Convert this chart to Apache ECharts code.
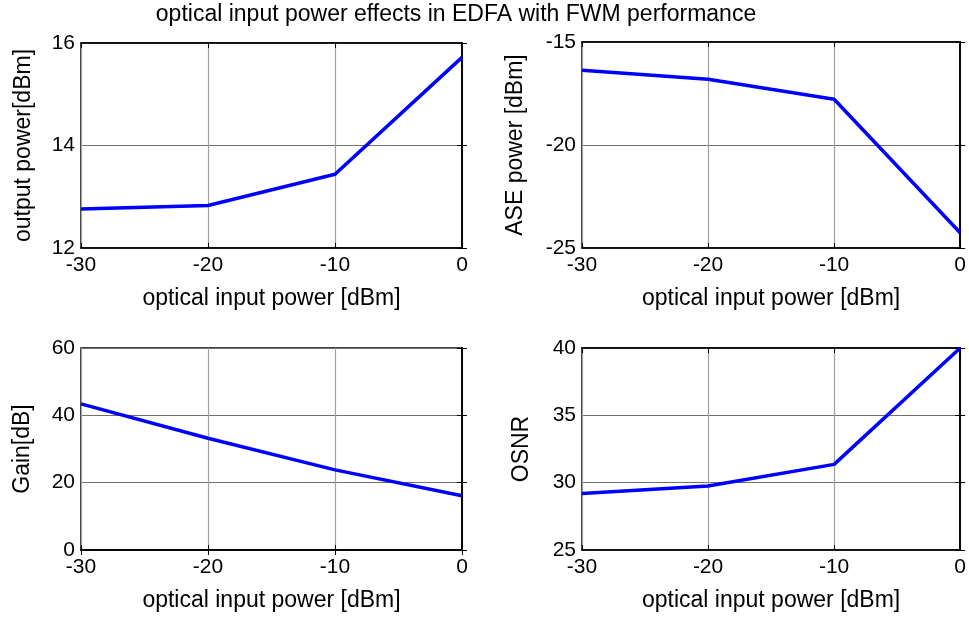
<!DOCTYPE html>
<html>
<head>
<meta charset="utf-8">
<script src="https://cdn.jsdelivr.net/npm/echarts@6/dist/echarts.min.js"></script>
<style>
html, body { margin: 0; padding: 0; background: #fff; }
#chart { width: 969px; height: 624px; }
</style>
</head>
<body>
<div id="chart"></div>
<script>
// input power points (dBm)
var inputPower = [-30, -20, -10, 0];
// values
var outputPower = [12.76, 12.83, 13.44, 15.72];
var asePower = [-16.37, -16.81, -17.78, -24.26];
var gain = [43.4, 33.2, 23.8, 16.1];
var osnr = [29.2, 29.75, 31.36, 40.0];

var yNames = ['output power[dBm]', 'ASE power [dBm]', 'Gain[dB]', 'OSNR'];
var yMin = [12, -25, 0, 25];
var yMax = [16, -15, 60, 40];
var yStep = [2, 5, 20, 5];
var xName = 'optical input power [dBm]';

var FONT = 'Liberation Sans, Arial, sans-serif';

var chart = echarts.init(document.getElementById('chart'));

var grids = [
	{ left: 81, top: 43, width: 381, height: 205 },
	{ left: 582, top: 42, width: 379, height: 206 },
	{ left: 81, top: 348, width: 381, height: 202 },
	{ left: 582, top: 348, width: 379, height: 202 }
];
var yGaps = [46, 55, 47, 49];
var allData = [outputPower, asePower, gain, osnr];

var xAxes = [], yAxes = [], series = [];
for (var i = 0; i < 4; i++) {
	grids[i].show = true;
	grids[i].borderColor = '#000';
	grids[i].borderWidth = 1.5;
	// bottom axis with labels
	xAxes.push({
		type: 'value', gridIndex: i, position: 'bottom',
		min: -30, max: 0, interval: 10,
		name: xName, nameLocation: 'middle', nameGap: 39,
		nameTextStyle: { color: '#000', fontFamily: FONT, fontSize: 23 },
		axisLine: { show: true, lineStyle: { color: '#000', width: 1.5 } },
		axisTick: { show: true, inside: true, length: 5, lineStyle: { color: '#000' } },
		axisLabel: { color: '#000', fontFamily: FONT, fontSize: 21, margin: 7 },
		splitLine: { show: true, lineStyle: { color: '#a0a0a0', width: 1.2 } }
	});
	// top axis only for ticks
	xAxes.push({
		type: 'value', gridIndex: i, position: 'top',
		min: -30, max: 0, interval: 10,
		axisLine: { show: true, lineStyle: { color: '#000', width: 1.5 } },
		axisTick: { show: true, inside: true, length: 5, lineStyle: { color: '#000' } },
		axisLabel: { show: false },
		splitLine: { show: false }
	});
	yAxes.push({
		type: 'value', gridIndex: i, position: 'left',
		min: yMin[i], max: yMax[i], interval: yStep[i],
		name: yNames[i], nameLocation: 'middle', nameGap: yGaps[i],
		nameTextStyle: { color: '#000', fontFamily: FONT, fontSize: 23 },
		axisLine: { show: true, lineStyle: { color: '#000', width: 1.5 } },
		axisTick: { show: true, inside: true, length: 5, lineStyle: { color: '#000' } },
		axisLabel: { color: '#000', fontFamily: FONT, fontSize: 21, margin: 6 },
		splitLine: { show: true, lineStyle: { color: '#707070', width: 1 } }
	});
	yAxes.push({
		type: 'value', gridIndex: i, position: 'right',
		min: yMin[i], max: yMax[i], interval: yStep[i],
		axisLine: { show: true, lineStyle: { color: '#000', width: 1.5 } },
		axisTick: { show: true, inside: true, length: 5, lineStyle: { color: '#000' } },
		axisLabel: { show: false },
		splitLine: { show: false }
	});
	var pts = [];
	for (var k = 0; k < inputPower.length; k++) {
		pts.push([inputPower[k], allData[i][k]]);
	}
	series.push({
		type: 'line', xAxisIndex: i * 2, yAxisIndex: i * 2,
		data: pts, showSymbol: false, symbol: 'none',
		lineStyle: { color: '#0000ff', width: 3.5 },
		animation: false
	});
}

var option = {
	backgroundColor: '#fff',
	title: {
		text: 'optical input power effects in EDFA with FWM performance',
		left: 456, top: 3, textAlign: 'center', padding: 0,
		textStyle: { color: '#000', fontFamily: FONT, fontSize: 23, fontWeight: 'normal' }
	},
	grid: grids,
	xAxis: xAxes,
	yAxis: yAxes,
	series: series
};
chart.setOption(option);
</script>
</body>
</html>
